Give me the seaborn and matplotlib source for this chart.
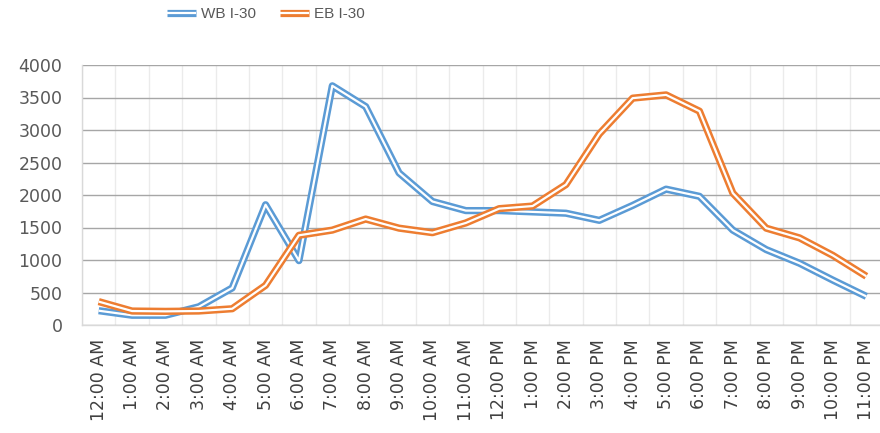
import numpy as np
import pandas as pd
import seaborn as sns
import matplotlib.pyplot as plt
import matplotlib.patheffects as pe
from matplotlib.lines import Line2D

# hourly volumes
hours = ["12:00 AM", "1:00 AM", "2:00 AM", "3:00 AM", "4:00 AM", "5:00 AM",
         "6:00 AM", "7:00 AM", "8:00 AM", "9:00 AM", "10:00 AM", "11:00 AM",
         "12:00 PM", "1:00 PM", "2:00 PM", "3:00 PM", "4:00 PM", "5:00 PM",
         "6:00 PM", "7:00 PM", "8:00 PM", "9:00 PM", "10:00 PM", "11:00 PM"]
wb_i30 = [220, 150, 150, 280, 570, 1850, 990, 3680, 3360, 2340, 1900, 1760,
          1760, 1740, 1720, 1610, 1840, 2090, 1980, 1460, 1160, 950, 690, 440]
eb_i30 = [360, 215, 210, 215, 250, 610, 1380, 1460, 1630, 1490, 1420, 1570,
          1790, 1830, 2160, 2940, 3490, 3540, 3290, 2030, 1490, 1340, 1070, 750]
series = ["WB I-30", "EB I-30"]
colors = {"WB I-30": "#5B9BD5", "EB I-30": "#ED7D31"}

df = pd.DataFrame({
    "idx": np.tile(np.arange(len(hours)), 2),
    "volume": wb_i30 + eb_i30,
    "dir": np.repeat(series, len(hours)),
})

sns.set_style("white")
plt.rcParams["font.family"] = ["DejaVu Sans"]

fig = plt.figure(figsize=(8.8, 4.33), dpi=100)
ax = fig.add_axes([82 / 880, 1 - 325 / 433, 801 / 880, 260 / 433])


def double(color):
    # double-line look: white core with a coloured stroke around it
    return [pe.Stroke(linewidth=5.2, foreground=color), pe.Normal()]


for name in series:
    sub = df[df["dir"] == name]
    sns.lineplot(data=sub, x="idx", y="volume", ax=ax, color="white",
                 linewidth=1.6, legend=False, solid_capstyle="butt",
                 path_effects=double(colors[name]))

ax.set_xlim(-0.5, len(hours) - 0.5)
ax.set_ylim(0, 4000)
ax.set_yticks(range(0, 4001, 500))
ax.set_xticks(range(len(hours)))
ax.set_xticklabels(hours, rotation=90, fontsize=12.5, color="#404040")
ax.set_xticks(np.arange(-0.5, len(hours), 1), minor=True)
ax.tick_params(axis="y", labelsize=12.5, labelcolor="#595959", length=0, pad=14)
ax.tick_params(axis="x", which="both", length=0, pad=10)
ax.set_xlabel("")
ax.set_ylabel("")

ax.grid(axis="y", which="major", color="#A6A6A6", linewidth=1)
ax.grid(axis="x", which="minor", color="#EBEBEB", linewidth=1)
ax.grid(axis="x", which="major", visible=False)
ax.set_axisbelow(True)
for side in ["top", "right"]:
    ax.spines[side].set_visible(False)
for side in ["left", "bottom"]:
    ax.spines[side].set_color("#D9D9D9")
    ax.spines[side].set_linewidth(1)

handles = [Line2D([], [], color="white", linewidth=1.6, solid_capstyle="butt",
                  path_effects=double(colors[n])) for n in series]
fig.legend(handles, series, loc="center", bbox_to_anchor=(266 / 880, 1 - 14 / 433),
           ncol=2, frameon=False, labelcolor="#595959",
           prop={"family": ["Liberation Sans", "DejaVu Sans"], "size": 11},
           handlelength=1.9, handletextpad=0.3, columnspacing=1.6)

fig.savefig("out.png", dpi=100)
